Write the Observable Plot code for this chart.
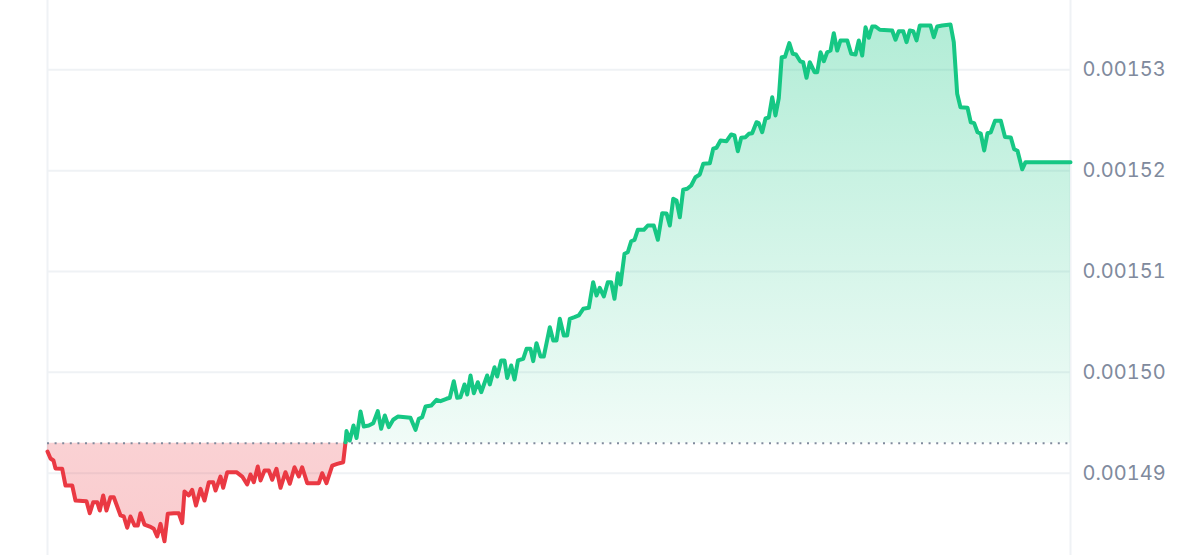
<!DOCTYPE html>
<html>
<head>
<meta charset="utf-8">
<script src="https://cdn.jsdelivr.net/npm/d3@7"></script>
<script src="https://cdn.jsdelivr.net/npm/@observablehq/plot@0.6"></script>
<style>
  html, body { margin: 0; padding: 0; background: #ffffff; }
  #chart svg { display: block; }
</style>
</head>
<body>
<div id="chart"></div>
<script>
// ---- data (minutes since start of the 24h window, price) ----
const minutes = [
  0, 4.2, 8.4, 11.3, 20.7, 25.3, 34.8, 39.4, 54.9, 59.5, 64.3, 70.0, 73.6, 78.4, 83.0, 88.7, 93.3, 102.8, 107.4, 112.2,
  116.8, 122.5, 127.1, 130.9, 136.5, 144.0, 149.6, 154.4, 159.1, 164.7, 169.3, 177.8, 184.8, 189.6, 192.8, 198.9, 203.7, 209.0, 215.4, 221.0,
  227.1, 233.2, 236.5, 243.5, 247.3, 253.0, 266.0, 274.1, 281.1, 285.7, 290.4, 296.0, 299.8, 305.5, 311.5, 316.3, 322.3, 328.0, 335.0, 341.1,
  347.7, 353.7, 358.5, 365.6, 372.6, 381.9, 386.7, 392.7, 400.8, 407.8, 416.2, 419.5, 420.9, 425.5, 430.7, 435.0, 440.6, 445.2, 452.3, 458.5,
  464.9, 469.7, 474.8, 480.4, 486.6, 493.1, 503.9, 510.9, 518.0, 522.6, 527.4, 532.1, 540.1, 547.6, 553.2, 561.6, 566.3, 571.9, 576.7, 581.3,
  587.0, 590.8, 595.4, 600.1, 605.7, 610.5, 618.9, 622.6, 629.2, 633.0, 638.6, 643.3, 647.1, 652.7, 657.4, 662.3, 669.6, 674.3, 679.9, 683.7,
  688.3, 694.0, 698.6, 707.1, 711.9, 716.5, 721.1, 726.8, 731.5, 735.2, 741.8, 747.9, 754.1, 762.0, 768.1, 772.8, 777.4, 783.1, 788.7, 793.5,
  798.1, 802.8, 806.6, 812.2, 816.8, 821.6, 826.3, 830.9, 839.4, 845.0, 853.4, 859.1, 865.3, 871.4, 876.0, 880.8, 885.4, 890.1, 894.8, 900.5,
  906.1, 912.1, 918.2, 923.0, 932.3, 937.1, 941.7, 947.4, 955.8, 962.4, 967.0, 971.7, 976.5, 982.5, 987.2, 991.9, 998.0, 1001.2, 1006.0, 1010.7,
  1015.3, 1020.1, 1024.7, 1029.4, 1033.5, 1038.1, 1044.2, 1049.0, 1053.6, 1059.5, 1063.7, 1068.4, 1073.0, 1079.7, 1083.5, 1088.1, 1092.8, 1097.5, 1102.2, 1106.8,
  1111.6, 1116.3, 1125.7, 1131.3, 1137.4, 1142.0, 1146.8, 1151.5, 1156.1, 1160.9, 1165.5, 1171.6, 1189.0, 1193.7, 1198.3, 1204.5, 1209.2, 1213.8, 1218.6, 1223.3,
  1227.9, 1242.9, 1247.6, 1252.3, 1259.4, 1271.1, 1275.7, 1280.5, 1285.1, 1295.0, 1299.6, 1304.4, 1309.1, 1313.7, 1318.5, 1323.2, 1327.8, 1333.7, 1341.9, 1347.8,
  1356.0, 1360.7, 1365.4, 1372.0, 1376.7, 1440
];
const prices = [
  0.00149215, 0.00149146, 0.00149126, 0.00149047, 0.00149044, 0.00148878, 0.00148878, 0.00148729, 0.00148722, 0.00148603,
  0.00148712, 0.00148712, 0.00148630, 0.00148779, 0.00148630, 0.00148762, 0.00148762, 0.00148581, 0.00148571, 0.00148459,
  0.00148571, 0.00148481, 0.00148481, 0.00148603, 0.00148491, 0.00148471, 0.00148449, 0.00148372, 0.00148498, 0.00148326,
  0.00148597, 0.00148603, 0.00148603, 0.00148504, 0.00148819, 0.00148779, 0.00148835, 0.00148680, 0.00148845, 0.00148729,
  0.00148911, 0.00148911, 0.00148828, 0.00148967, 0.00148855, 0.00149010, 0.00149010, 0.00148967, 0.00148888, 0.00148987,
  0.00148911, 0.00149066, 0.00148928, 0.00149027, 0.00149027, 0.00148935, 0.00149044, 0.00148855, 0.00149010, 0.00148895,
  0.00149059, 0.00148967, 0.00149059, 0.00148901, 0.00148901, 0.00148901, 0.00149000, 0.00148901, 0.00149076, 0.00149093,
  0.00149109, 0.00149307, 0.00149418, 0.00149324, 0.00149473, 0.00149349, 0.00149612, 0.00149463, 0.00149473, 0.00149496,
  0.00149615, 0.00149440, 0.00149572, 0.00149456, 0.00149530, 0.00149562, 0.00149555, 0.00149549, 0.00149430, 0.00149539,
  0.00149555, 0.00149661, 0.00149671, 0.00149728, 0.00149714, 0.00149738, 0.00149748, 0.00149912, 0.00149748, 0.00149754,
  0.00149880, 0.00149780, 0.00149969, 0.00149793, 0.00149902, 0.00149803, 0.00149969, 0.00149880, 0.00150051, 0.00149959,
  0.00150118, 0.00150118, 0.00149944, 0.00150068, 0.00149929, 0.00150118, 0.00150134, 0.00150233, 0.00150233, 0.00150111,
  0.00150289, 0.00150157, 0.00150157, 0.00150448, 0.00150316, 0.00150316, 0.00150531, 0.00150365, 0.00150365, 0.00150531,
  0.00150547, 0.00150564, 0.00150630, 0.00150640, 0.00150894, 0.00150762, 0.00150838, 0.00150752, 0.00150894, 0.00150894,
  0.00150729, 0.00150983, 0.00150871, 0.00151176, 0.00151191, 0.00151300, 0.00151314, 0.00151413, 0.00151413, 0.00151456,
  0.00151456, 0.00151314, 0.00151578, 0.00151575, 0.00151456, 0.00151721, 0.00151704, 0.00151538, 0.00151810, 0.00151820,
  0.00151853, 0.00151935, 0.00151962, 0.00152068, 0.00152074, 0.00152217, 0.00152227, 0.00152299, 0.00152292, 0.00152359,
  0.00152349, 0.00152193, 0.00152326, 0.00152332, 0.00152365, 0.00152371, 0.00152480, 0.00152471, 0.00152381, 0.00152517,
  0.00152527, 0.00152728, 0.00152547, 0.00152720, 0.00153125, 0.00153129, 0.00153264, 0.00153159, 0.00153152, 0.00153084,
  0.00153075, 0.00152921, 0.00153075, 0.00152976, 0.00152976, 0.00153174, 0.00153085, 0.00153174, 0.00153191, 0.00153363,
  0.00153191, 0.00153291, 0.00153291, 0.00153159, 0.00153152, 0.00153291, 0.00153142, 0.00153422, 0.00153317, 0.00153429,
  0.00153429, 0.00153397, 0.00153390, 0.00153298, 0.00153383, 0.00153383, 0.00153274, 0.00153390, 0.00153383, 0.00153291,
  0.00153439, 0.00153439, 0.00153323, 0.00153429, 0.00153439, 0.00153449, 0.00153274, 0.00152762, 0.00152629, 0.00152623,
  0.00152480, 0.00152471, 0.00152381, 0.00152368, 0.00152200, 0.00152371, 0.00152381, 0.00152494, 0.00152494, 0.00152334,
  0.00152329, 0.00152212, 0.00152197, 0.00152013, 0.00152084, 0.00152084
];
const openPrice = 0.00149297;                 // reference (dotted) level
const yTicks = [0.00149, 0.00150, 0.00151, 0.00152, 0.00153];
const yDomain = [0.00148184, 0.00153687];
const xDomain = [0, 1440];

const upColor = "#16c784";
const downColor = "#ea3943";

// ---- build table ----
const data = minutes.map((t, i) => ({t, p: prices[i]}));
const cross = data.findIndex(d => d.p >= openPrice);
const down = data.slice(0, cross + 1);
const up = data.slice(cross);

const chart = Plot.plot({
  width: 1200,
  height: 555,
  marginLeft: 47,
  marginRight: 130,
  marginTop: 0,
  marginBottom: 0,
  style: {fontFamily: "Inter, 'Noto Sans', sans-serif", fontSize: "20px", background: "#ffffff"},
  x: {domain: xDomain, axis: null},
  y: {domain: yDomain, axis: null},
  marks: [
    Plot.gridY(yTicks, {stroke: "#eff2f5", strokeOpacity: 1, strokeWidth: 2}),
    Plot.ruleX(xDomain, {stroke: "#eff2f5", strokeWidth: 2}),
    Plot.areaY(down, {x: "t", y1: () => openPrice, y2: d => Math.min(d.p, openPrice), fill: "url(#downGrad)"}),
    Plot.areaY(up, {x: "t", y1: () => openPrice, y2: d => Math.max(d.p, openPrice), fill: "url(#upGrad)"}),
    Plot.ruleY([openPrice], {stroke: "#808a9d", strokeWidth: 2, strokeDasharray: "2 5.6"}),
    Plot.line(down, {x: "t", y: "p", stroke: downColor, strokeWidth: 4, strokeLinejoin: "round", strokeLinecap: "round"}),
    Plot.line(up, {x: "t", y: "p", stroke: upColor, strokeWidth: 4, strokeLinejoin: "round", strokeLinecap: "round"}),
    Plot.axisY(yTicks, {anchor: "right", tickSize: 0, tickPadding: 12, label: null,
      tickFormat: d3.format(".5f"), fill: "#808a9d", fontSize: 20})
  ]
});

// gradients for the area fills
const ns = "http://www.w3.org/2000/svg";
const defs = document.createElementNS(ns, "defs");
defs.innerHTML = `
  <linearGradient id="upGrad" x1="0" y1="0" x2="0" y2="1">
    <stop offset="0" stop-color="${upColor}" stop-opacity="0.33"/>
    <stop offset="1" stop-color="${upColor}" stop-opacity="0.06"/>
  </linearGradient>
  <linearGradient id="downGrad" x1="0" y1="0" x2="0" y2="1">
    <stop offset="0" stop-color="${downColor}" stop-opacity="0.23"/>
    <stop offset="1" stop-color="${downColor}" stop-opacity="0.26"/>
  </linearGradient>`;
chart.insertBefore(defs, chart.firstChild);

document.getElementById("chart").appendChild(chart);
</script>
</body>
</html>
